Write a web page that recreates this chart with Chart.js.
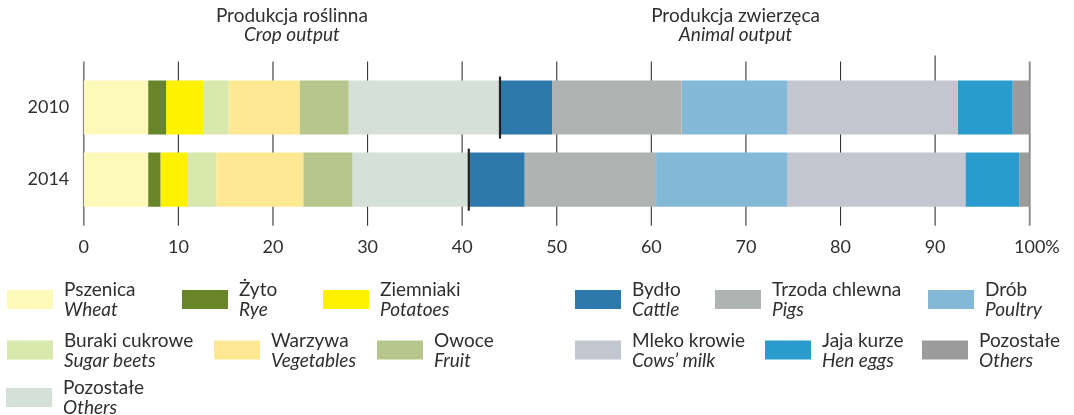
<!DOCTYPE html>
<html>
<head>
<meta charset="utf-8">
<script src="https://cdn.jsdelivr.net/npm/chart.js@4"></script>
<style>
  body { margin: 0; background: #fff; }
  canvas { display: block; }
</style>
</head>
<body>
<canvas id="outputChart" width="1074" height="415"></canvas>
<script>
// Years on the category axis
const years = ['2010', '2014'];

// Crop output, % of total (2010, 2014)
const wheat = [6.8, 6.8];
const rye = [1.9, 1.3];
const potatoes = [3.9, 2.9];
const sugarBeets = [2.7, 3.0];
const vegetables = [7.5, 9.2];
const fruit = [5.2, 5.2];
const cropOthers = [16.0, 12.3];

// Animal output, % of total (2010, 2014)
const cattle = [5.5, 5.9];
const pigs = [13.7, 13.9];
const poultry = [11.2, 13.9];
const cowsMilk = [18.0, 18.8];
const henEggs = [5.8, 5.7];
const animalOthers = [1.8, 1.1];

const xTicks = [0, 10, 20, 30, 40, 50, 60, 70, 80, 90, 100];

const cropSeries = [
    { pl: 'Pszenica', en: 'Wheat', data: wheat, color: '#fdf9b9' },
    { pl: 'Żyto', en: 'Rye', data: rye, color: '#68852a' },
    { pl: 'Ziemniaki', en: 'Potatoes', data: potatoes, color: '#fff200' },
    { pl: 'Buraki cukrowe', en: 'Sugar beets', data: sugarBeets, color: '#d9e8ac' },
    { pl: 'Warzywa', en: 'Vegetables', data: vegetables, color: '#fee894' },
    { pl: 'Owoce', en: 'Fruit', data: fruit, color: '#b7c68d' },
    { pl: 'Pozostałe', en: 'Others', data: cropOthers, color: '#d5e0d8' }
];

const animalSeries = [
    { pl: 'Bydło', en: 'Cattle', data: cattle, color: '#2e79ab' },
    { pl: 'Trzoda chlewna', en: 'Pigs', data: pigs, color: '#afb3b1' },
    { pl: 'Drób', en: 'Poultry', data: poultry, color: '#83b9d7' },
    { pl: 'Mleko krowie', en: 'Cows\u2019 milk', data: cowsMilk, color: '#c3c6ce' },
    { pl: 'Jaja kurze', en: 'Hen eggs', data: henEggs, color: '#299bcd' },
    { pl: 'Pozostałe', en: 'Others', data: animalOthers, color: '#9b9b9b' }
];

const allSeries = cropSeries.concat(animalSeries);

// legend slot for each series: [swatch left, row]
const legendSlots = [
    [7, 0], [182, 0], [323, 0], [7, 1], [214, 1], [377, 1], [6, 2],
    [575, 0], [715, 0], [928, 0], [575, 1], [765, 1], [922, 1]
];
const legendRowTops = [290, 340.5, 388];

const textColor = '#2f2f2f';
const fontFamily = 'Lato, "Open Sans", sans-serif';
const labelFont = '19px ' + fontFamily;
const labelFontItalic = 'italic 19px ' + fontFamily;

Chart.defaults.font.family = fontFamily;
Chart.defaults.font.size = 18;
Chart.defaults.color = textColor;

const overlay = {
    id: 'overlay',
    beforeDatasetsDraw(chart) {
        // vertical grid, running a little past the plot area
        const { ctx, chartArea, scales } = chart;
        ctx.save();
        xTicks.forEach(v => {
            const px = scales.x.getPixelForValue(v);
            const edge = v === 0 || v === 100;
            ctx.strokeStyle = edge ? '#858585' : '#333';
            ctx.lineWidth = edge ? 1.8 : 1.1;
            ctx.beginPath();
            ctx.moveTo(px, chartArea.top - (v === 90 ? 16 : 10));
            ctx.lineTo(px, chartArea.bottom + 10);
            ctx.stroke();
        });
        ctx.restore();
    },
    afterDatasetsDraw(chart) {
        // separator between crop and animal output
        const { ctx, scales } = chart;
        const meta = chart.getDatasetMeta(0);
        ctx.save();
        ctx.strokeStyle = '#222';
        ctx.lineWidth = 2.2;
        years.forEach((y, i) => {
            const total = cropSeries.reduce((s, c) => s + c.data[i], 0);
            const px = scales.x.getPixelForValue(total);
            const bar = meta.data[i].getProps(['y', 'height'], true);
            ctx.beginPath();
            ctx.moveTo(px, bar.y - bar.height / 2 - 4);
            ctx.lineTo(px, bar.y + bar.height / 2 + 4);
            ctx.stroke();
        });
        ctx.restore();
    },
    afterDraw(chart) {
        const { ctx, scales } = chart;
        const x = scales.x;
        ctx.save();
        ctx.fillStyle = textColor;

        // group titles
        ctx.textAlign = 'center';
        ctx.textBaseline = 'alphabetic';
        [[22, 'Produkcja roślinna', 'Crop output'], [68.9, 'Produkcja zwierzęca', 'Animal output']].forEach(t => {
            const px = x.getPixelForValue(t[0]);
            ctx.font = labelFont;
            ctx.fillText(t[1], px, 22);
            ctx.font = labelFontItalic;
            ctx.fillText(t[2], px, 41);
        });

        // "%" after the last tick
        const lastTick = x._labelItems ? x._labelItems[x._labelItems.length - 1] : null;
        if (lastTick) {
            ctx.font = '18px ' + fontFamily;
            const w = ctx.measureText('100').width;
            ctx.textAlign = 'left';
            ctx.textBaseline = lastTick.options.textBaseline;
            ctx.translate(lastTick.options.translation[0], lastTick.options.translation[1]);
            ctx.fillText('%', w / 2, lastTick.textOffset);
            ctx.setTransform(1, 0, 0, 1, 0, 0);
        }

        // legend
        ctx.textAlign = 'left';
        ctx.textBaseline = 'alphabetic';
        allSeries.forEach((s, i) => {
            const [left, row] = legendSlots[i];
            const top = legendRowTops[row];
            ctx.fillStyle = s.color;
            ctx.fillRect(left, top, 46, 19);
            ctx.fillStyle = textColor;
            ctx.font = labelFont;
            ctx.fillText(s.pl, left + 57, top + 6);
            ctx.font = labelFontItalic;
            ctx.fillText(s.en, left + 57, top + 26);
        });
        ctx.restore();
    }
};

const ctx = document.getElementById('outputChart').getContext('2d');

new Chart(ctx, {
    type: 'bar',
    data: {
        labels: years,
        datasets: allSeries.map(s => ({
            label: s.pl,
            data: s.data,
            backgroundColor: s.color,
            borderWidth: 0,
            barPercentage: 0.75,
            categoryPercentage: 1
        }))
    },
    options: {
        indexAxis: 'y',
        responsive: false,
        animation: false,
        layout: {
            padding: { left: 0, right: 44.3, top: 71.5, bottom: 159.3 }
        },
        plugins: {
            legend: { display: false },
            tooltip: { enabled: false }
        },
        scales: {
            x: {
                stacked: true,
                min: 0,
                max: 100,
                grid: { display: false, drawTicks: false },
                border: { display: false },
                afterFit: scale => { scale.height = 40; },
                ticks: {
                    stepSize: 10,
                    padding: 21,
                    color: textColor,
                    maxRotation: 0
                }
            },
            y: {
                stacked: true,
                grid: { display: false, drawTicks: false },
                border: { display: false },
                afterFit: scale => { scale.width = 83.8; },
                ticks: {
                    padding: 14.5,
                    color: textColor
                }
            }
        }
    },
    plugins: [overlay]
});
</script>
</body>
</html>
